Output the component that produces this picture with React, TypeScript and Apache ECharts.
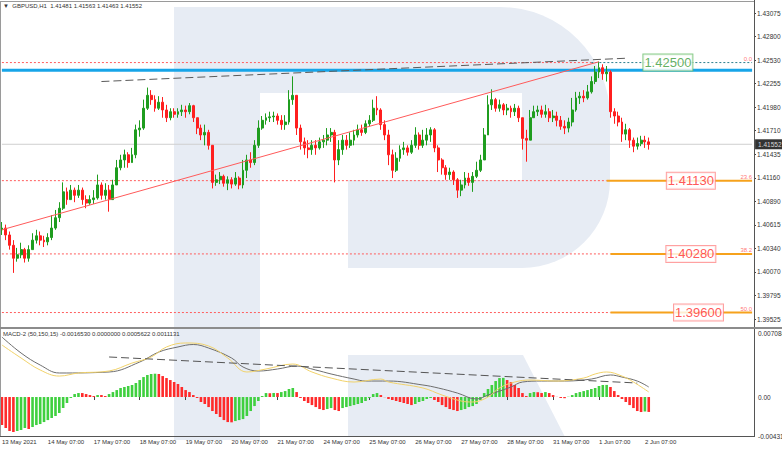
import React, { useEffect, useRef } from "react";
import * as echarts from "echarts";

// ---------- data ----------
const DATE_LABELS = ["13 May 2021", "14 May 07:00", "17 May 07:00", "18 May 07:00", "19 May 07:00", "20 May 07:00", "21 May 07:00", "24 May 07:00", "25 May 07:00", "26 May 07:00", "27 May 07:00", "28 May 07:00", "31 May 07:00", "1 Jun 07:00", "2 Jun 07:00"];
const BARS_PER_DAY = 12; // 2-hour bars
const SLOT_COUNT = 197;

const PRICE_TICKS = ["1.39525", "1.39795", "1.40070", "1.40340", "1.40615", "1.40890", "1.41160", "1.41435", "1.41710", "1.41980", "1.42255", "1.42530", "1.42800", "1.43075"];
const PRICE_MIN = 1.39525;
const PRICE_MAX = 1.43075;
const MACD_MIN = -0.004312;
const MACD_MAX = 0.0070846;

const OPEN_FIRST = 1.4056;
const CLOSE = [
  1.4058, 1.4050, 1.4038, 1.4023, 1.4027, 1.4033, 1.4023, 1.4033, 1.4044, 1.4049,
  1.4044, 1.4042, 1.4047, 1.4058, 1.4070, 1.4081, 1.4100, 1.4091, 1.4102, 1.4096,
  1.4102, 1.4091, 1.4087, 1.4091, 1.4093, 1.4108, 1.4096, 1.4102, 1.4091, 1.4108,
  1.4128, 1.4137, 1.4143, 1.4134, 1.4143, 1.4172, 1.4174, 1.4197, 1.4212, 1.4207,
  1.4197, 1.4204, 1.4195, 1.4186, 1.4193, 1.4190, 1.4193, 1.4195, 1.4193, 1.4200,
  1.4186, 1.4174, 1.4166, 1.4169, 1.4154, 1.4111, 1.4114, 1.4118, 1.4110, 1.4114,
  1.4109, 1.4116, 1.4108, 1.4125, 1.4137, 1.4134, 1.4154, 1.4174, 1.4183, 1.4186,
  1.4187, 1.4188, 1.4183, 1.4178, 1.4181, 1.4207, 1.4212, 1.4174, 1.4158, 1.4151,
  1.4149, 1.4154, 1.4151, 1.4158, 1.4160, 1.4166, 1.4169, 1.4137, 1.4149, 1.4160,
  1.4154, 1.4160, 1.4166, 1.4172, 1.4169, 1.4179, 1.4183, 1.4197, 1.4195, 1.4178,
  1.4166, 1.4143, 1.4125, 1.4139, 1.4149, 1.4151, 1.4146, 1.4154, 1.4166, 1.4154,
  1.4160, 1.4166, 1.4172, 1.4151, 1.4137, 1.4128, 1.4120, 1.4123, 1.4114, 1.4102,
  1.4108, 1.4116, 1.4111, 1.4118, 1.4125, 1.4137, 1.4166, 1.4201, 1.4207, 1.4197,
  1.4201, 1.4195, 1.4197, 1.4193, 1.4197, 1.4186, 1.4162, 1.4160, 1.4186, 1.4193,
  1.4195, 1.4190, 1.4193, 1.4186, 1.4188, 1.4183, 1.4176, 1.4174, 1.4181, 1.4195,
  1.4209, 1.4211, 1.4209, 1.4216, 1.4228, 1.4239, 1.4244, 1.4237, 1.4239, 1.4193,
  1.4188, 1.4181, 1.4167, 1.4172, 1.4160, 1.4153, 1.4156, 1.4160, 1.4158, 1.4155,
];
const HIGH = [
  1.4065, 1.4062, 1.4054, 1.4044, 1.4035, 1.4041, 1.4035, 1.4038, 1.4052, 1.4056,
  1.4054, 1.4049, 1.4052, 1.4073, 1.4079, 1.4088, 1.4111, 1.4105, 1.4108, 1.4105,
  1.4108, 1.4105, 1.4096, 1.4096, 1.4102, 1.4120, 1.4111, 1.4110, 1.4108, 1.4114,
  1.4137, 1.4143, 1.4149, 1.4146, 1.4151, 1.4178, 1.4183, 1.4207, 1.4221, 1.4218,
  1.4212, 1.4211, 1.4210, 1.4201, 1.4197, 1.4197, 1.4197, 1.4201, 1.4200, 1.4203,
  1.4201, 1.4186, 1.4178, 1.4178, 1.4172, 1.4154, 1.4120, 1.4123, 1.4120, 1.4118,
  1.4117, 1.4123, 1.4118, 1.4137, 1.4143, 1.4146, 1.4160, 1.4183, 1.4188, 1.4191,
  1.4193, 1.4193, 1.4191, 1.4189, 1.4189, 1.4218, 1.4234, 1.4212, 1.4178, 1.4163,
  1.4160, 1.4160, 1.4160, 1.4163, 1.4166, 1.4174, 1.4174, 1.4172, 1.4160, 1.4166,
  1.4166, 1.4169, 1.4172, 1.4178, 1.4178, 1.4183, 1.4189, 1.4207, 1.4211, 1.4197,
  1.4183, 1.4172, 1.4149, 1.4146, 1.4154, 1.4158, 1.4154, 1.4160, 1.4175, 1.4169,
  1.4172, 1.4174, 1.4175, 1.4174, 1.4154, 1.4139, 1.4131, 1.4128, 1.4125, 1.4116,
  1.4114, 1.4123, 1.4122, 1.4123, 1.4135, 1.4143, 1.4174, 1.4212, 1.4219, 1.4209,
  1.4207, 1.4203, 1.4202, 1.4200, 1.4202, 1.4200, 1.4186, 1.4172, 1.4195, 1.4200,
  1.4200, 1.4200, 1.4201, 1.4197, 1.4195, 1.4193, 1.4188, 1.4183, 1.4186, 1.4209,
  1.4216, 1.4216, 1.4218, 1.4224, 1.4234, 1.4246, 1.4251, 1.4248, 1.4246, 1.4241,
  1.4197, 1.4193, 1.4186, 1.4179, 1.4174, 1.4163, 1.4163, 1.4165, 1.4165, 1.4163,
];
const LOW = [
  1.4050, 1.4044, 1.4033, 1.4006, 1.4019, 1.4023, 1.4018, 1.4019, 1.4033, 1.4040,
  1.4038, 1.4036, 1.4038, 1.4044, 1.4056, 1.4065, 1.4079, 1.4085, 1.4091, 1.4088,
  1.4093, 1.4085, 1.4081, 1.4085, 1.4086, 1.4091, 1.4091, 1.4091, 1.4077, 1.4091,
  1.4108, 1.4125, 1.4128, 1.4128, 1.4134, 1.4139, 1.4164, 1.4172, 1.4195, 1.4201,
  1.4193, 1.4195, 1.4186, 1.4181, 1.4183, 1.4186, 1.4186, 1.4188, 1.4186, 1.4190,
  1.4181, 1.4167, 1.4160, 1.4154, 1.4149, 1.4104, 1.4107, 1.4109, 1.4106, 1.4102,
  1.4104, 1.4107, 1.4103, 1.4104, 1.4116, 1.4128, 1.4131, 1.4151, 1.4172, 1.4178,
  1.4181, 1.4181, 1.4178, 1.4172, 1.4172, 1.4178, 1.4201, 1.4166, 1.4149, 1.4143,
  1.4139, 1.4143, 1.4143, 1.4149, 1.4151, 1.4154, 1.4158, 1.4111, 1.4131, 1.4143,
  1.4149, 1.4151, 1.4154, 1.4163, 1.4165, 1.4167, 1.4176, 1.4181, 1.4189, 1.4172,
  1.4160, 1.4131, 1.4116, 1.4123, 1.4135, 1.4143, 1.4142, 1.4144, 1.4151, 1.4149,
  1.4151, 1.4154, 1.4158, 1.4146, 1.4123, 1.4120, 1.4114, 1.4114, 1.4108, 1.4093,
  1.4095, 1.4104, 1.4107, 1.4100, 1.4116, 1.4123, 1.4137, 1.4166, 1.4195, 1.4193,
  1.4193, 1.4189, 1.4189, 1.4186, 1.4188, 1.4181, 1.4149, 1.4135, 1.4160, 1.4186,
  1.4188, 1.4186, 1.4186, 1.4181, 1.4181, 1.4176, 1.4172, 1.4167, 1.4169, 1.4176,
  1.4193, 1.4202, 1.4204, 1.4207, 1.4214, 1.4225, 1.4232, 1.4230, 1.4228, 1.4186,
  1.4179, 1.4176, 1.4158, 1.4160, 1.4151, 1.4146, 1.4149, 1.4153, 1.4151, 1.4149,
];

const HIST = [
  -0.00310, -0.00343, -0.00376, -0.00387, -0.00376, -0.00365, -0.00343, -0.00354, -0.00332, -0.00310,
  -0.00299, -0.00277, -0.00255, -0.00232, -0.00210, -0.00177, -0.00122, -0.00066, -0.00011, 0.00033,
  0.00044, 0.00044, 0.00033, 0.00022, 0.00011, 0.00022, 0.00022, 0.00011, 0.00033, 0.00055,
  0.00077, 0.00100, 0.00111, 0.00122, 0.00133, 0.00155, 0.00188, 0.00221, 0.00244, 0.00255,
  0.00258, 0.00255, 0.00232, 0.00210, 0.00188, 0.00166, 0.00144, 0.00111, 0.00077, 0.00055,
  0.00022, -0.00011, -0.00055, -0.00077, -0.00111, -0.00155, -0.00188, -0.00221, -0.00255, -0.00277,
  -0.00280, -0.00266, -0.00255, -0.00244, -0.00210, -0.00155, -0.00100, -0.00044, 0.00011, 0.00044,
  0.00042, 0.00045, 0.00044, 0.00055, 0.00066, 0.00089, 0.00100, 0.00055, -0.00011, -0.00044,
  -0.00066, -0.00089, -0.00111, -0.00133, -0.00144, -0.00133, -0.00122, -0.00144, -0.00155, -0.00122,
  -0.00111, -0.00100, -0.00089, -0.00077, -0.00066, -0.00044, -0.00011, 0.00033, 0.00044, 0.00022,
  -0.00002, -0.00022, -0.00033, -0.00044, -0.00055, -0.00066, -0.00077, -0.00089, -0.00077, -0.00055,
  -0.00044, -0.00022, -0.00011, -0.00033, -0.00055, -0.00089, -0.00111, -0.00133, -0.00144, -0.00155,
  -0.00144, -0.00133, -0.00111, -0.00100, -0.00077, -0.00033, 0.00044, 0.00089, 0.00133, 0.00177,
  0.00210, 0.00212, 0.00188, 0.00166, 0.00133, 0.00100, 0.00044, 0.00011, 0.00044, 0.00055,
  0.00053, 0.00044, 0.00055, 0.00044, 0.00022, 0.00002, -0.00011, -0.00013, 0.00003, 0.00022,
  0.00044, 0.00055, 0.00066, 0.00077, 0.00089, 0.00100, 0.00122, 0.00133, 0.00134, 0.00111,
  0.00066, 0.00022, -0.00022, -0.00055, -0.00089, -0.00122, -0.00155, -0.00166, -0.00160, -0.00165,
];

// [bar index, value]
const MACD_LINE = [
  [0, 0.00664], [5, 0.00487], [10, 0.00354], [15, 0.00266], [28, 0.00277], [36, 0.00387], [41, 0.00498],
  [46, 0.00554], [50, 0.00581], [54, 0.00542], [60, 0.00432], [63, 0.00332], [67, 0.00288], [72, 0.00310],
  [77, 0.00343], [82, 0.00299], [86, 0.00255], [92, 0.00199], [95, 0.00177], [101, 0.00177], [110, 0.00133],
  [114, 0.00100], [119, 0.00044], [124, -0.00022], [127, 0.00022], [133, 0.00111], [136, 0.00166],
  [141, 0.00177], [147, 0.00177], [154, 0.00199], [159, 0.00244], [162, 0.00221], [166, 0.00177], [169, 0.00111],
];
const SIGNAL_LINE = [
  [0, 0.00576], [5, 0.00432], [10, 0.00299], [15, 0.00232], [20, 0.00266], [28, 0.00288], [34, 0.00376],
  [39, 0.00443], [43, 0.00554], [48, 0.00598], [54, 0.00565], [59, 0.00432], [64, 0.00277], [69, 0.00310],
  [76, 0.00365], [81, 0.00277], [86, 0.00210], [92, 0.00166], [99, 0.00199], [101, 0.00166], [110, 0.00100],
  [115, 0.00022], [120, -0.00044], [123, -0.00055], [127, 0.00000], [130, 0.00100], [134, 0.00166],
  [138, 0.00188], [145, 0.00177], [152, 0.00210], [155, 0.00255], [158, 0.00277], [162, 0.00232],
  [165, 0.00166], [169, 0.00056],
];

const LAST_PRICE = 1.41552;
const BLUE_LEVEL = 1.4241;
const FIB_PRICES = [1.425, 1.4113, 1.4028, 1.396];
const FIB_NAMES = ["0.0", "23.6", "38.2", "50.0"];
const FIB_BOX_TEXT = ["1.42500", "1.41130", "1.40280", "1.39600"];
const FIB_SPLIT = [154, 158, 159, 159];
const FIB_BOX_AT = [174, 180, 180, 182];
const PRICE_TREND = [[0, 1.4056], [156, 1.4251]];
const PRICE_CHANNEL = [[26, 1.4228], [163, 1.4255]];
const MACD_TREND = [[28, 0.00443], [166, 0.00155]];

const TITLE = "▼  GBPUSD,H1  1.41481 1.41563 1.41463 1.41552";
const MACD_TITLE = "MACD-2 (50,150,15) -0.0016530 0.0000000 0.0005622 0.0011131";

// ---------- styles ----------
const FONT = "Liberation Sans, Arial, sans-serif";
const BULL = "#1f9d1f";
const BEAR = "#ff1f1f";
const HIST_UP = "#3fd03f";
const HIST_DN = "#ff2a2a";
const WM = "#e7ecf4";

export default function App() {
  const ref = useRef<HTMLDivElement>(null);

  useEffect(() => {
    document.body.style.margin = "0";
    if (!ref.current) return;
    const chart = echarts.init(ref.current, null, { renderer: "svg" });

    const cats = Array.from({ length: SLOT_COUNT }, (_, i) => String(i));
    const lastSlot = SLOT_COUNT - 1;
    const isDayTick = (i: number) => i % BARS_PER_DAY === 0 && i / BARS_PER_DAY < DATE_LABELS.length;
    const priceStep = (PRICE_MAX - PRICE_MIN) / (PRICE_TICKS.length - 1);

    const candles = CLOSE.map((c, i) => {
      const o = i === 0 ? OPEN_FIRST : CLOSE[i - 1];
      return [o, c, Math.min(LOW[i], o, c), Math.max(HIGH[i], o, c)];
    });

    const lineSeries = (data: number[][], color: string, width: number, type: any, xi: number, yi: number, z: number, smooth: any = false): any => ({
      type: "line",
      xAxisIndex: xi,
      yAxisIndex: yi,
      data,
      symbol: "none",
      silent: true,
      z,
      smooth,
      lineStyle: { color, width, type },
      emphasis: { disabled: true },
    });

    const fibSeries: any[] = [];
    FIB_PRICES.forEach((p, k) => {
      fibSeries.push(lineSeries([[0, p], [FIB_SPLIT[k], p]], "#ff5c5c", 1, [2, 2], 0, 0, 1));
      if (k === 0) fibSeries.push(lineSeries([[FIB_SPLIT[k], p], [lastSlot, p]], "#2b7f8f", 1, [2, 2], 0, 0, 1));
      else fibSeries.push(lineSeries([[FIB_SPLIT[k], p], [lastSlot, p]], "#f6a21c", 2, "solid", 0, 0, 1));
    });

    const option: any = {
      animation: false,
      backgroundColor: "#ffffff",
      tooltip: { show: false },
      grid: [
        { left: 0, right: 28, top: 13, bottom: 130, containLabel: false, outerBoundsMode: "none" },
        { left: 0, right: 28, top: 333, bottom: 13, containLabel: false, outerBoundsMode: "none" },
      ],
      xAxis: [
        { type: "category", gridIndex: 0, data: cats, show: false, boundaryGap: true },
        {
          type: "category",
          gridIndex: 1,
          data: cats,
          boundaryGap: true,
          axisLine: { show: false },
          axisTick: { show: true, alignWithLabel: true, interval: (i: number) => isDayTick(i), length: 3, lineStyle: { color: "#444" } },
          axisLabel: {
            interval: (i: number) => isDayTick(i),
            formatter: (v: string) => {
              const i = Number(v);
              return isDayTick(i) ? DATE_LABELS[i / BARS_PER_DAY] : "";
            },
            align: "left",
            fontSize: 6,
            color: "#333",
            margin: 3,
            fontFamily: FONT,
          },
          splitLine: { show: false },
        },
      ],
      yAxis: [
        {
          type: "value",
          gridIndex: 0,
          position: "right",
          min: PRICE_MIN,
          max: PRICE_MAX,
          interval: priceStep,
          splitLine: { show: false },
          axisLine: { show: false },
          axisTick: { show: true, length: 2, lineStyle: { color: "#444" } },
          axisLabel: {
            formatter: (v: number) => PRICE_TICKS[Math.round((v - PRICE_MIN) / priceStep)] ?? "",
            fontSize: 6.5,
            color: "#333",
            margin: 3,
            fontFamily: FONT,
          },
        },
        {
          type: "value",
          gridIndex: 1,
          position: "right",
          min: MACD_MIN,
          max: MACD_MAX,
          interval: -MACD_MIN,
          splitLine: { show: false },
          axisLine: { show: false },
          axisTick: { show: false },
          axisLabel: {
            formatter: (v: number) => {
              if (Math.abs(v - MACD_MIN) < 2e-5) return "-0.004312";
              if (Math.abs(v) < 2e-5) return "0.00";
              if (Math.abs(v - MACD_MAX) < 2e-5) return "0.0070846";
              return "";
            },
            fontSize: 6.5,
            color: "#333",
            margin: 4,
            fontFamily: FONT,
          },
        },
      ],
      series: [
        lineSeries([[0, LAST_PRICE], [lastSlot, LAST_PRICE]], "#cfcfcf", 1, "solid", 0, 0, 1),
        lineSeries([[0, BLUE_LEVEL], [lastSlot, BLUE_LEVEL]], "#17a5e8", 3, "solid", 0, 0, 2),
        {
          type: "candlestick",
          xAxisIndex: 0,
          yAxisIndex: 0,
          data: candles,
          barWidth: 2.4,
          z: 3,
          silent: true,
          emphasis: { disabled: true },
          itemStyle: { color: BULL, color0: BEAR, borderColor: BULL, borderColor0: BEAR, borderWidth: 1 },
        },
        ...fibSeries,
        lineSeries(PRICE_TREND, "#ff5a5a", 1, "solid", 0, 0, 4),
        lineSeries(PRICE_CHANNEL, "#5a5a5a", 1, [8, 4], 0, 0, 4),
        {
          type: "scatter",
          xAxisIndex: 0,
          yAxisIndex: 0,
          symbolSize: 0,
          silent: true,
          z: 8,
          data: FIB_PRICES.map((p, k) => ({
            value: [FIB_BOX_AT[k], p],
            label: {
              show: true,
              formatter: FIB_BOX_TEXT[k],
              position: "inside",
              color: k === 0 ? "#3a9b3a" : "#ff2b2b",
              borderColor: k === 0 ? "#6cbf6c" : "#ff8a8a",
              borderWidth: 1,
              backgroundColor: "#fff",
              padding: [2, 1, 1, 1],
              fontSize: 13,
              fontFamily: FONT,
            },
          })),
        },
        {
          type: "scatter",
          xAxisIndex: 0,
          yAxisIndex: 0,
          symbolSize: 0,
          silent: true,
          z: 8,
          data: FIB_PRICES.map((p, k) => ({
            value: [lastSlot, p],
            label: {
              show: true,
              formatter: FIB_NAMES[k],
              position: [0, 0],
              align: "right",
              verticalAlign: "bottom",
              offset: [0, -1],
              color: "#ff5050",
              fontSize: 6,
              fontFamily: FONT,
            },
          })),
        },
        {
          type: "scatter",
          xAxisIndex: 0,
          yAxisIndex: 0,
          symbolSize: 0,
          silent: true,
          z: 9,
          data: [
            {
              value: [lastSlot, LAST_PRICE],
              label: {
                show: true,
                formatter: LAST_PRICE.toFixed(5),
                position: "right",
                distance: 3,
                color: "#fff",
                backgroundColor: "#000",
                padding: [2, 2, 1, 3],
                fontSize: 6.5,
                fontFamily: FONT,
              },
            },
          ],
        },
        {
          type: "bar",
          xAxisIndex: 1,
          yAxisIndex: 1,
          barWidth: 2.6,
          silent: true,
          z: 2,
          emphasis: { disabled: true },
          data: HIST.map((v, i) => ({
            value: v,
            itemStyle: { color: i > 0 && v > HIST[i - 1] ? HIST_UP : HIST_DN },
          })),
        },
        lineSeries(MACD_LINE, "#6e6e6e", 1, "solid", 1, 1, 4, 0.4),
        lineSeries(SIGNAL_LINE, "#f1d26a", 1, "solid", 1, 1, 4, 0.4),
        lineSeries(MACD_TREND, "#555555", 1, [8, 4], 1, 1, 5),
      ],
      graphic: {
        elements: [
          // watermark
          { type: "rect", z: 0, silent: true, shape: { x: 174, y: 7, width: 86, height: 433 }, style: { fill: WM } },
          { type: "rect", z: 0, silent: true, shape: { x: 260, y: 7, width: 350, height: 261, r: [0, 110, 88, 0] }, style: { fill: WM } },
          { type: "rect", z: 0, silent: true, shape: { x: 260, y: 93, width: 262, height: 87 }, style: { fill: "#fff" } },
          { type: "rect", z: 0, silent: true, shape: { x: 260, y: 180, width: 88, height: 89 }, style: { fill: "#fff" } },
          { type: "polygon", z: 0, silent: true, shape: { points: [[348, 355], [523, 355], [565, 437], [348, 437]] }, style: { fill: WM } },
          // frame
          { type: "line", z: 20, silent: true, shape: { x1: 0.5, y1: 1, x2: 0.5, y2: 437 }, style: { stroke: "#9a9a9a", lineWidth: 1 } },
          { type: "line", z: 20, silent: true, shape: { x1: 0, y1: 1.5, x2: 754, y2: 1.5 }, style: { stroke: "#9a9a9a", lineWidth: 1 } },
          { type: "line", z: 20, silent: true, shape: { x1: 754.5, y1: 0, x2: 754.5, y2: 437 }, style: { stroke: "#555", lineWidth: 1 } },
          { type: "line", z: 20, silent: true, shape: { x1: 0, y1: 436.5, x2: 755, y2: 436.5 }, style: { stroke: "#555", lineWidth: 1 } },
          { type: "rect", z: 20, silent: true, shape: { x: 0, y: 327, width: 782, height: 2 }, style: { fill: "#8c8c8c" } },
          // titles
          { type: "text", z: 21, silent: true, x: 3, y: 6, style: { text: TITLE, fontSize: 6, fontFamily: FONT, fill: "#333", verticalAlign: "middle", align: "left" } },
          { type: "text", z: 21, silent: true, x: 3, y: 334, style: { text: MACD_TITLE, fontSize: 6, fontFamily: FONT, fill: "#333", verticalAlign: "middle", align: "left" } },
        ],
      },
    };

    chart.setOption(option);
    return () => chart.dispose();
  }, []);

  return <div ref={ref} style={{ width: 782, height: 449 }} />;
}
